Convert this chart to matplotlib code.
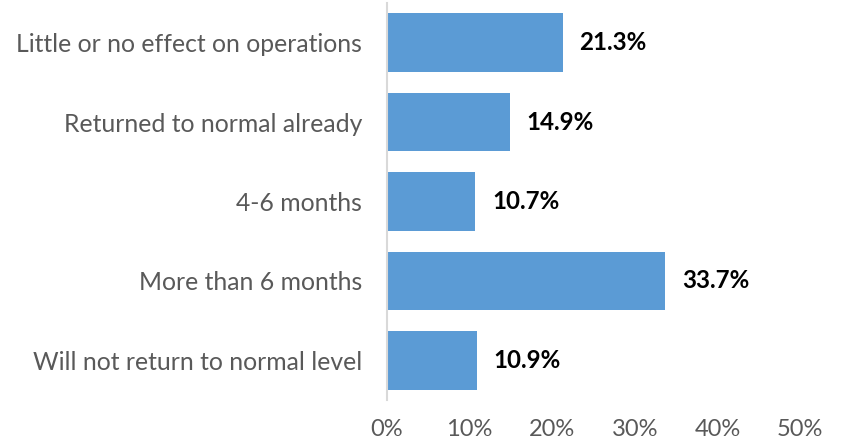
import matplotlib
matplotlib.use("Agg")
import matplotlib.pyplot as plt

categories = ["Little or no effect on operations", "Returned to normal already",
              "4-6 months", "More than 6 months", "Will not return to normal level"]
values = [21.3, 14.9, 10.7, 33.7, 10.9]
xticks = [0, 10, 20, 30, 40, 50]
xtick_labels = ["0%", "10%", "20%", "30%", "40%", "50%"]

plt.rcParams['font.family'] = ['Lato', 'DejaVu Sans']

fig = plt.figure(figsize=(8.42, 4.40), dpi=100)
ax = fig.add_axes([387/842, 1 - 400/440, (800-387)/842, 397/440])

y = list(range(len(categories)))
ax.barh(y, values, height=0.74, color="#5B9BD5")
ax.set_ylim(len(categories) - 0.5, -0.5)
ax.set_xlim(0, 50)

for yi, v in zip(y, values):
    ax.annotate(f"{v:.1f}%", (v, yi), xytext=(12, 0), textcoords="offset points",
                va="center", ha="left", fontsize=17.4, fontweight="bold", color="black")

ax.set_yticks(y)
ax.set_yticklabels(categories, fontsize=17.8, color="#595959")
ax.set_xticks(xticks)
ax.set_xticklabels(xtick_labels, fontsize=17, color="#595959")
ax.tick_params(axis="both", length=0)
ax.tick_params(axis="y", pad=18)
ax.tick_params(axis="x", pad=14)
for s in ["top", "right", "bottom"]:
    ax.spines[s].set_visible(False)
ax.spines["left"].set_color("#D9D9D9")
ax.spines["left"].set_linewidth(1.5)

fig.savefig("out.png", dpi=100)
